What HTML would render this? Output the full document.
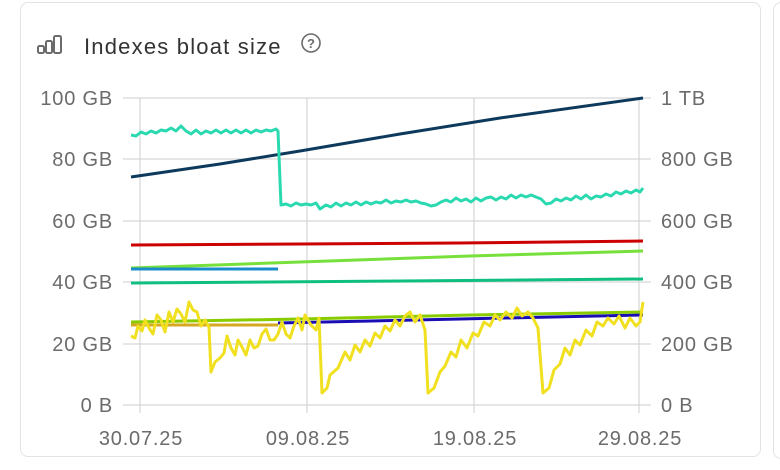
<!DOCTYPE html>
<html><head><meta charset="utf-8"><style>
html,body{margin:0;padding:0;background:#fff;width:780px;height:470px;overflow:hidden}
.card{position:absolute;left:20px;top:2px;width:741px;height:455px;border:1.5px solid #e3e3e3;border-radius:8px;box-sizing:border-box}
.card2{position:absolute;left:773px;top:2px;width:40px;height:455px;border:1.5px solid #e3e3e3;border-radius:8px}
svg{position:absolute;left:0;top:0}
text{font-family:"Liberation Sans",sans-serif;fill:#6b6b6b;font-size:20px;letter-spacing:0.8px}
</style></head><body>
<div class="card"></div><div class="card2"></div>
<svg width="780" height="470">
<g fill="none" stroke="#6b6b6b" stroke-width="2">
<rect x="38" y="46" width="6" height="7" rx="1.5"/><rect x="46" y="41" width="6" height="12" rx="1.5"/><rect x="54" y="36" width="7" height="17" rx="1.5"/>
<circle cx="311" cy="43" r="9" stroke-width="1.6"/>
</g>
<text x="307" y="48" style="font-size:13px;font-weight:bold;letter-spacing:0">?</text>
<text x="84" y="54" style="font-size:22px;fill:#333;letter-spacing:1.2px">Indexes bloat size</text>
<g stroke="#d6d6d6" stroke-width="1.2">
<line x1="123" y1="98" x2="651" y2="98"/><line x1="123" y1="159" x2="651" y2="159"/><line x1="123" y1="221" x2="651" y2="221"/><line x1="123" y1="282" x2="651" y2="282"/><line x1="123" y1="344" x2="651" y2="344"/><line x1="123" y1="405" x2="651" y2="405"/>
<line x1="140" y1="98" x2="140" y2="413"/><line x1="307" y1="98" x2="307" y2="413"/><line x1="474" y1="98" x2="474" y2="413"/><line x1="639" y1="98" x2="639" y2="413"/>
</g>
<g text-anchor="end"><text x="113" y="105">100 GB</text><text x="113" y="166">80 GB</text><text x="113" y="228">60 GB</text><text x="113" y="289">40 GB</text><text x="113" y="351">20 GB</text><text x="113" y="412">0 B</text></g>
<g><text x="661" y="105">1 TB</text><text x="661" y="166">800 GB</text><text x="661" y="228">600 GB</text><text x="661" y="289">400 GB</text><text x="661" y="351">200 GB</text><text x="661" y="412">0 B</text></g>
<g text-anchor="middle" style="letter-spacing:1.8px"><text x="141" y="445">30.07.25</text><text x="308" y="445">09.08.25</text><text x="475" y="445">19.08.25</text><text x="640" y="445">29.08.25</text></g>
<g fill="none" stroke-width="3" stroke-linejoin="round">
<polyline stroke="#cc0000" points="131,245 300,244 460,243 643,241"/>
<polyline stroke="#77e03a" points="131,268 300,262 470,256 643,251"/>
<polyline stroke="#1a8ccc" points="131,269 278,269"/>
<polyline stroke="#0fbf80" points="131,283 400,281 643,279"/>
<polyline stroke="#d4a820" points="131,325 278,325"/>
<polyline stroke="#1a0db3" points="278,323 460,319 643,315"/>
<polyline stroke="#88cc00" points="131,322 300,319 470,315 643,312"/>
<polyline stroke="#0d3a5c" points="131,177 220,164 300,151 400,134 500,118 643,98"/>
<polyline stroke="#2bd9b0" points="131,135 136,136 141,132 146,134 151,131 156,133 161,130 166,131 171,128 176,131 181,126 186,131 191,134 196,130 201,134 206,131 211,133 216,130 221,133 226,130 231,133 236,130 241,133 246,130 251,133 256,130 261,132 266,130 271,131 276,129 278,131 281,205 286,204 291,206 296,203 301,205 306,204 311,205 316,203 320,209 326,205 331,207 336,203 341,206 346,203 351,205 356,202 361,205 366,202 371,204 376,202 381,203 386,200 391,203 396,201 401,202 406,200 411,202 416,201 421,203 426,204 431,206 436,205 441,202 446,200 451,202 456,198 461,201 466,199 471,202 476,198 481,201 486,198 491,197 496,200 501,197 506,199 511,195 516,198 521,195 526,197 531,195 536,197 541,199 546,204 551,203 556,199 561,201 566,198 571,200 576,196 581,199 586,195 591,199 596,196 601,197 606,194 611,196 616,192 621,194 626,191 631,193 636,190 640,192 643,188"/>
<polyline stroke="#f0e020" points="131,336 135,338 138,326 142,331 145,320 149,328 153,334 157,315 161,320 165,332 169,312 173,322 177,309 181,314 185,322 189,302 193,310 197,312 201,326 205,320 209,327 211,372 215,362 220,358 224,353 227,336 231,348 235,355 238,340 242,347 246,355 250,340 254,348 258,346 262,334 266,329 270,340 274,340 278,334 282,322 286,334 290,338 294,326 298,318 302,330 305,315 308,320 311,325 316,330 319,318 322,393 327,388 330,375 338,368 345,352 350,360 355,345 360,352 365,340 370,346 375,333 380,338 385,326 390,331 395,320 400,326 405,316 410,312 415,322 420,315 425,330 428,393 434,388 440,372 445,366 451,352 456,357 461,340 467,348 473,333 478,336 484,322 490,326 495,315 500,320 506,312 512,318 517,308 522,316 528,312 533,318 538,328 543,393 549,388 554,370 560,364 565,348 570,355 575,340 580,345 586,330 592,336 597,322 603,326 608,318 614,324 619,316 625,328 630,318 636,326 640,322 643,302"/>
</g>
</svg>
</body></html>
